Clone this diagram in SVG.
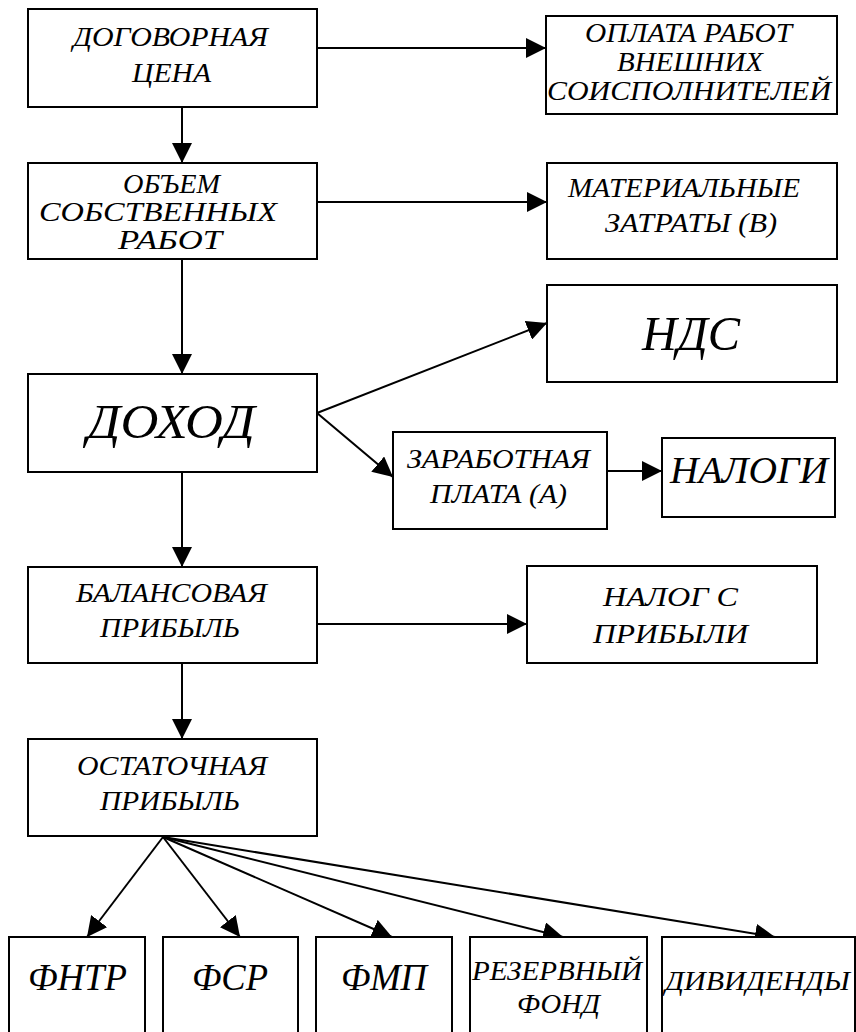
<svg xmlns="http://www.w3.org/2000/svg" width="856" height="1032" viewBox="0 0 856 1032">
<style>
rect.b{fill:#fff;stroke:#000;stroke-width:2}
text{font-family:"Liberation Serif","Times New Roman",serif;font-style:italic;font-size:27px;text-anchor:middle;fill:#000}
.big{font-size:48px}
.mid{font-size:38px}
.c line{stroke:#000;stroke-width:2;marker-end:url(#ah)}
</style>
<defs>
<marker id="ah" markerUnits="userSpaceOnUse" markerWidth="20" markerHeight="20" refX="20" refY="10" orient="auto" viewBox="0 0 20 20">
<path d="M0,0 L20,10 L0,20 z" fill="#000"/>
</marker>
</defs>
<rect width="856" height="1032" fill="#fff"/>
<g class="c" id="connectors">
<line x1="182" y1="107" x2="182" y2="163"/>
<line x1="317" y1="48" x2="546" y2="48"/>
<line x1="317" y1="202" x2="547" y2="202"/>
<line x1="182" y1="259" x2="182" y2="374"/>
<line x1="317" y1="413" x2="547" y2="323"/>
<line x1="317" y1="413" x2="393" y2="477"/>
<line x1="607" y1="471" x2="662" y2="471"/>
<line x1="182" y1="472" x2="182" y2="567"/>
<line x1="317" y1="624" x2="527" y2="624"/>
<line x1="182" y1="663" x2="182" y2="739"/>
<line x1="163" y1="837" x2="87" y2="937"/>
<line x1="163" y1="837" x2="240" y2="937"/>
<line x1="163" y1="837" x2="392" y2="937"/>
<line x1="163" y1="837" x2="563" y2="937"/>
<line x1="163" y1="837" x2="775" y2="937"/>
</g>
<g id="n1"><rect class="b" x="28" y="9" width="289" height="98"/><text x="170.5" y="46" textLength="195" lengthAdjust="spacingAndGlyphs">ДОГОВОРНАЯ</text><text x="171.5" y="82" textLength="79" lengthAdjust="spacingAndGlyphs">ЦЕНА</text></g>
<g id="n2"><rect class="b" x="546" y="16" width="291" height="98"/><text x="688.5" y="42" textLength="207" lengthAdjust="spacingAndGlyphs">ОПЛАТА РАБОТ</text><text x="690" y="71" textLength="146" lengthAdjust="spacingAndGlyphs">ВНЕШНИХ</text><text x="689" y="100" textLength="284" lengthAdjust="spacingAndGlyphs">СОИСПОЛНИТЕЛЕЙ</text></g>
<g id="n3"><rect class="b" x="28" y="163" width="289" height="96"/><text x="171.5" y="193" textLength="97" lengthAdjust="spacingAndGlyphs">ОБЪЕМ</text><text x="158" y="221" textLength="238" lengthAdjust="spacingAndGlyphs">СОБСТВЕННЫХ</text><text x="170" y="249" textLength="104" lengthAdjust="spacingAndGlyphs">РАБОТ</text></g>
<g id="n4"><rect class="b" x="547" y="163" width="290" height="96"/><text x="684" y="197" textLength="232" lengthAdjust="spacingAndGlyphs">МАТЕРИАЛЬНЫЕ</text><text x="691" y="232" textLength="172" lengthAdjust="spacingAndGlyphs">ЗАТРАТЫ (В)</text></g>
<g id="n5"><rect class="b" x="28" y="374" width="289" height="98"/><text class="big" x="171" y="438" textLength="168" lengthAdjust="spacingAndGlyphs">ДОХОД</text></g>
<g id="n6"><rect class="b" x="547" y="285" width="290" height="97"/><text class="big" x="691" y="350" textLength="98" lengthAdjust="spacingAndGlyphs">НДС</text></g>
<g id="n7"><rect class="b" x="393" y="432" width="214" height="97"/><text x="498.5" y="468" textLength="183" lengthAdjust="spacingAndGlyphs">ЗАРАБОТНАЯ</text><text x="498.5" y="503" textLength="137" lengthAdjust="spacingAndGlyphs">ПЛАТА (А)</text></g>
<g id="n8"><rect class="b" x="662" y="438" width="173" height="79"/><text class="mid" x="749" y="483" textLength="158" lengthAdjust="spacingAndGlyphs">НАЛОГИ</text></g>
<g id="n9"><rect class="b" x="28" y="567" width="289" height="96"/><text x="171.5" y="602" textLength="191" lengthAdjust="spacingAndGlyphs">БАЛАНСОВАЯ</text><text x="170" y="637" textLength="140" lengthAdjust="spacingAndGlyphs">ПРИБЫЛЬ</text></g>
<g id="n10"><rect class="b" x="527" y="566" width="290" height="97"/><text x="670.5" y="606" textLength="135" lengthAdjust="spacingAndGlyphs">НАЛОГ С</text><text x="670.5" y="643" textLength="155" lengthAdjust="spacingAndGlyphs">ПРИБЫЛИ</text></g>
<g id="n11"><rect class="b" x="28" y="739" width="289" height="97"/><text x="172" y="775" textLength="190" lengthAdjust="spacingAndGlyphs">ОСТАТОЧНАЯ</text><text x="170" y="810" textLength="140" lengthAdjust="spacingAndGlyphs">ПРИБЫЛЬ</text></g>
<g id="n12"><rect class="b" x="9" y="937" width="136" height="110"/><text class="mid" x="77.5" y="990" textLength="99" lengthAdjust="spacingAndGlyphs">ФНТР</text></g>
<g id="n13"><rect class="b" x="163" y="937" width="135" height="110"/><text class="mid" x="230" y="990" textLength="76" lengthAdjust="spacingAndGlyphs">ФСР</text></g>
<g id="n14"><rect class="b" x="316" y="937" width="136" height="110"/><text class="mid" x="384" y="990" textLength="86" lengthAdjust="spacingAndGlyphs">ФМП</text></g>
<g id="n15"><rect class="b" x="470" y="937" width="177" height="110"/><text x="557" y="980" textLength="170" lengthAdjust="spacingAndGlyphs">РЕЗЕРВНЫЙ</text><text x="558.5" y="1013" textLength="83" lengthAdjust="spacingAndGlyphs">ФОНД</text></g>
<g id="n16"><rect class="b" x="662" y="937" width="193" height="110"/><text x="757.5" y="990" textLength="185" lengthAdjust="spacingAndGlyphs">ДИВИДЕНДЫ</text></g>
</svg>
